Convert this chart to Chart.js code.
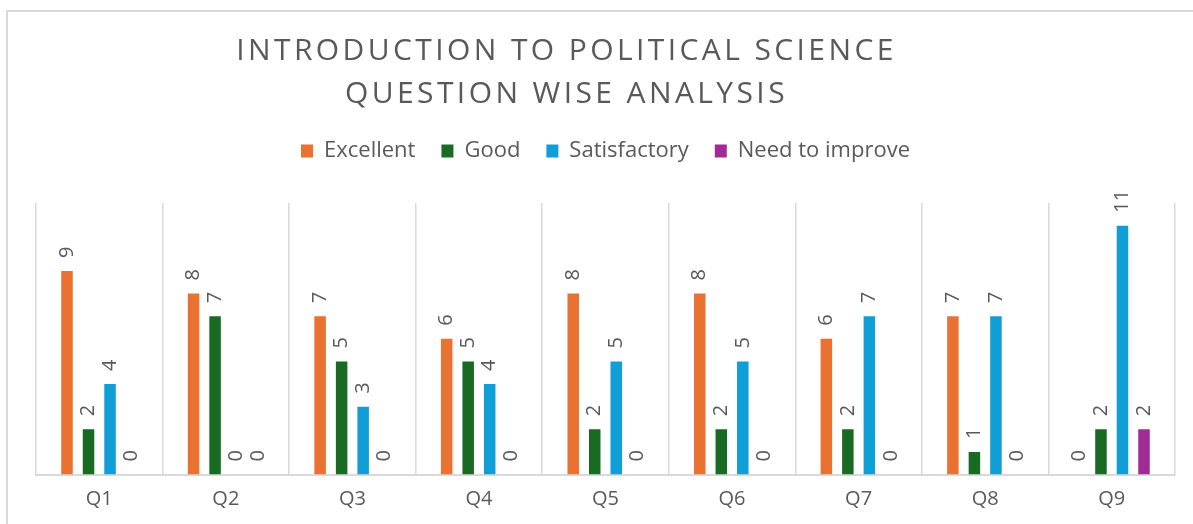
<!DOCTYPE html>
<html>
<head>
<meta charset="utf-8">
<script src="https://cdn.jsdelivr.net/npm/chart.js@4.4.1/dist/chart.umd.min.js"></script>
<style>
  html, body { margin: 0; padding: 0; background: #fff; overflow: hidden; }
  #frame { position: absolute; left: 6px; top: 10px; width: 1200px; height: 530px; border: 2px solid #d9d9d9; }
  #chart { position: absolute; left: 0; top: 0; }
</style>
</head>
<body>
<div id="frame"></div>
<canvas id="chart" width="1193" height="524"></canvas>
<script>
const titleLines = ['INTRODUCTION TO POLITICAL SCIENCE', 'QUESTION WISE ANALYSIS'];
const categories = ['Q1', 'Q2', 'Q3', 'Q4', 'Q5', 'Q6', 'Q7', 'Q8', 'Q9'];
const seriesNames = ['Excellent', 'Good', 'Satisfactory', 'Need to improve'];
const excellent = [9, 8, 7, 6, 8, 8, 6, 7, 0];
const good = [2, 7, 5, 5, 2, 2, 2, 1, 2];
const satisfactory = [4, 0, 3, 4, 5, 5, 7, 7, 11];
const needToImprove = [0, 0, 0, 0, 0, 0, 0, 0, 2];
const seriesColors = ['#E97132', '#196B24', '#0F9ED5', '#A02B93'];

const textGray = '#595959';

// title drawn by hand so it can be letter-spaced
const titlePlugin = {
  id: 'spacedTitle',
  afterDraw(chart) {
    const ctx = chart.ctx;
    ctx.save();
    ctx.font = '30px "Open Sans"';
    ctx.fillStyle = textGray;
    ctx.letterSpacing = '3.4px';
    ctx.textAlign = 'center';
    ctx.textBaseline = 'alphabetic';
    ctx.fillText(titleLines[0], 566.5, 60);
    ctx.fillText(titleLines[1], 566.5, 103);
    ctx.restore();
  }
};

// extra room under the legend
const legendGap = {
  id: 'legendGap',
  beforeInit(chart) {
    const fit = chart.legend.fit;
    chart.legend.fit = function () {
      fit.bind(chart.legend)();
      this.height += 31;
    };
  }
};

// rotated value labels above each bar
const rotLabels = {
  id: 'rotLabels',
  afterDatasetsDraw(chart) {
    const ctx = chart.ctx;
    ctx.save();
    ctx.font = '20px "Open Sans"';
    ctx.fillStyle = textGray;
    ctx.textAlign = 'left';
    ctx.textBaseline = 'middle';
    chart.data.datasets.forEach((ds, i) => {
      const meta = chart.getDatasetMeta(i);
      meta.data.forEach((bar, j) => {
        ctx.save();
        ctx.translate(bar.x, bar.y - 13);
        ctx.rotate(-Math.PI / 2);
        ctx.fillText(String(ds.data[j]), 0, 0);
        ctx.restore();
      });
    });
    ctx.restore();
  }
};

const allSeries = [excellent, good, satisfactory, needToImprove];

new Chart(document.getElementById('chart').getContext('2d'), {
  type: 'bar',
  data: {
    labels: categories,
    datasets: allSeries.map((vals, i) => ({
      label: seriesNames[i],
      data: vals,
      backgroundColor: seriesColors[i],
      borderWidth: 0,
      categoryPercentage: 0.68,
      barPercentage: 0.535
    }))
  },
  options: {
    responsive: false,
    animation: false,
    layout: {
      padding: { top: 114, left: 36, right: 18, bottom: 0.5 }
    },
    plugins: {
      title: { display: false },
      tooltip: { enabled: false },
      legend: {
        display: true,
        position: 'top',
        labels: {
          color: textGray,
          boxWidth: 12,
          boxHeight: 13,
          padding: 26,
          font: { family: 'Open Sans', size: 22 }
        }
      }
    },
    scales: {
      x: {
        grid: {
          display: true,
          offset: true,
          color: '#d9d9d9',
          lineWidth: 1.5,
          drawTicks: false
        },
        border: { display: true, color: '#d9d9d9', width: 2 },
        ticks: {
          color: textGray,
          padding: 12.5,
          font: { family: 'Open Sans', size: 20 }
        }
      },
      y: {
        display: false,
        min: 0,
        max: 12
      }
    }
  },
  plugins: [titlePlugin, legendGap, rotLabels]
});
</script>
</body>
</html>
